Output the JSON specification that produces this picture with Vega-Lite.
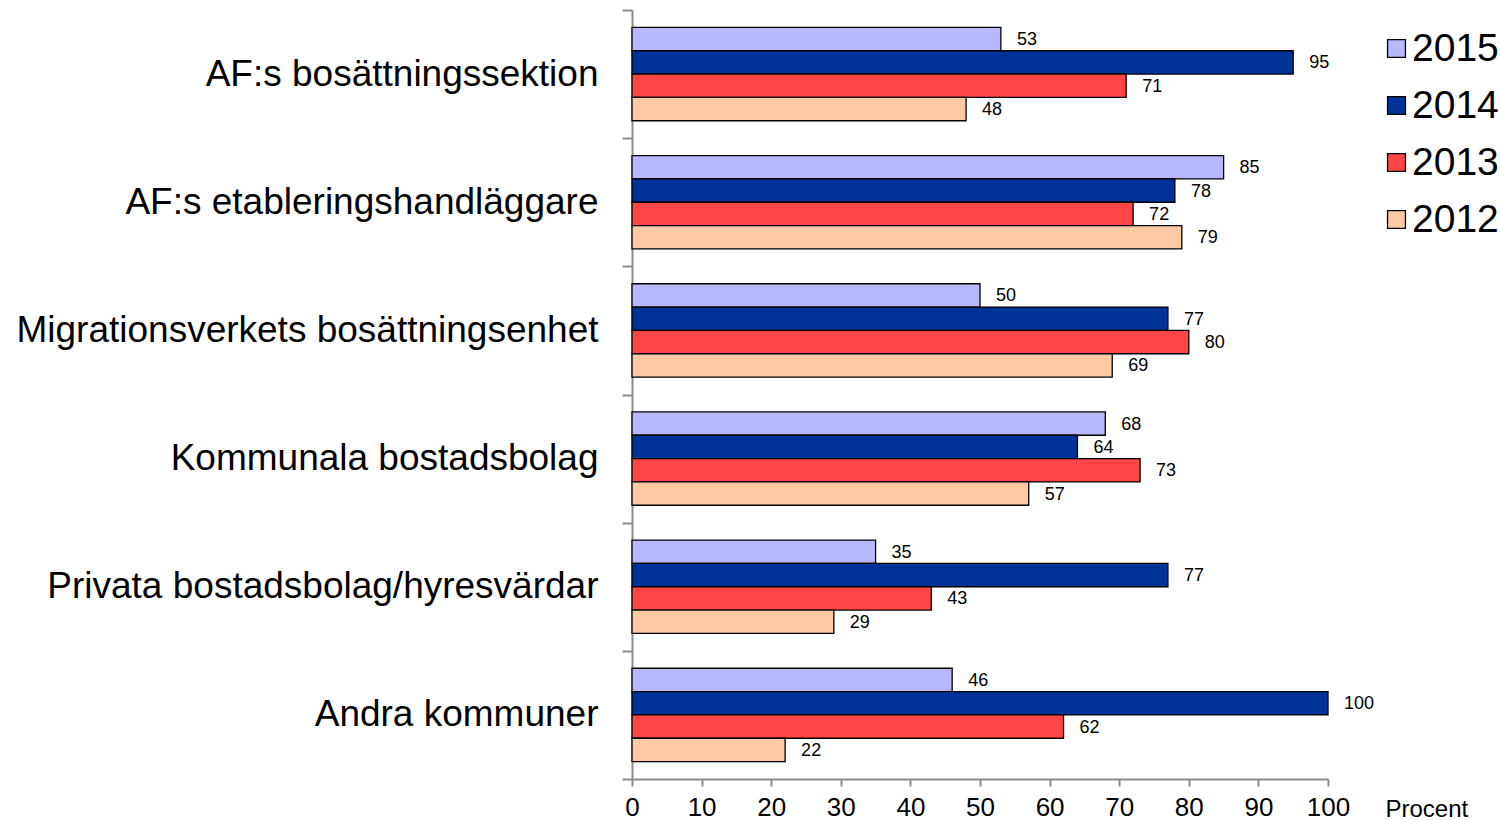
{
  "$schema": "https://vega.github.io/schema/vega-lite/v6.json",
  "width": 696,
  "height": 769,
  "autosize": {"type": "none"},
  "padding": {"left": 632, "top": 10, "right": 173, "bottom": 41},
  "background": "white",
  "config": {
    "view": {"stroke": null},
    "font": "Liberation Sans",
    "axis": {"labelFont": "Liberation Sans", "titleFont": "Liberation Sans"},
    "legend": {"labelFont": "Liberation Sans"}
  },
  "data": {
    "values": [
      {"kategori": "AF:s bosättningssektion", "year": "2015", "value": 53},
      {"kategori": "AF:s bosättningssektion", "year": "2014", "value": 95},
      {"kategori": "AF:s bosättningssektion", "year": "2013", "value": 71},
      {"kategori": "AF:s bosättningssektion", "year": "2012", "value": 48},
      {"kategori": "AF:s etableringshandläggare", "year": "2015", "value": 85},
      {"kategori": "AF:s etableringshandläggare", "year": "2014", "value": 78},
      {"kategori": "AF:s etableringshandläggare", "year": "2013", "value": 72},
      {"kategori": "AF:s etableringshandläggare", "year": "2012", "value": 79},
      {"kategori": "Migrationsverkets bosättningsenhet", "year": "2015", "value": 50},
      {"kategori": "Migrationsverkets bosättningsenhet", "year": "2014", "value": 77},
      {"kategori": "Migrationsverkets bosättningsenhet", "year": "2013", "value": 80},
      {"kategori": "Migrationsverkets bosättningsenhet", "year": "2012", "value": 69},
      {"kategori": "Kommunala bostadsbolag", "year": "2015", "value": 68},
      {"kategori": "Kommunala bostadsbolag", "year": "2014", "value": 64},
      {"kategori": "Kommunala bostadsbolag", "year": "2013", "value": 73},
      {"kategori": "Kommunala bostadsbolag", "year": "2012", "value": 57},
      {"kategori": "Privata bostadsbolag/hyresvärdar", "year": "2015", "value": 35},
      {"kategori": "Privata bostadsbolag/hyresvärdar", "year": "2014", "value": 77},
      {"kategori": "Privata bostadsbolag/hyresvärdar", "year": "2013", "value": 43},
      {"kategori": "Privata bostadsbolag/hyresvärdar", "year": "2012", "value": 29},
      {"kategori": "Andra kommuner", "year": "2015", "value": 46},
      {"kategori": "Andra kommuner", "year": "2014", "value": 100},
      {"kategori": "Andra kommuner", "year": "2013", "value": 62},
      {"kategori": "Andra kommuner", "year": "2012", "value": 22}
    ]
  },
  "encoding": {
    "y": {
      "field": "kategori",
      "type": "nominal",
      "sort": null,
      "scale": {"paddingInner": 0, "paddingOuter": 0},
      "axis": {
        "title": null,
        "tickBand": "extent",
        "tickSize": 10,
        "labelPadding": 24,
        "labelFontSize": 37,
        "labelColor": "black",
        "labelLimit": 700,
        "domainColor": "#8c8c8c",
        "tickColor": "#8c8c8c",
        "domainWidth": 2,
        "tickWidth": 2,
        "grid": false
      }
    },
    "yOffset": {
      "field": "year",
      "type": "nominal",
      "sort": ["2015", "2014", "2013", "2012"],
      "scale": {"paddingInner": 0, "paddingOuter": 0.745}
    },
    "x": {
      "field": "value",
      "type": "quantitative",
      "scale": {"domain": [0, 100], "nice": false},
      "axis": {
        "values": [0, 10, 20, 30, 40, 50, 60, 70, 80, 90, 100],
        "grid": false,
        "tickSize": 7,
        "labelPadding": 8,
        "labelFlush": false,
        "labelFontSize": 26,
        "labelColor": "black",
        "domainColor": "#8c8c8c",
        "tickColor": "#8c8c8c",
        "domainWidth": 2,
        "tickWidth": 2,
        "title": "Procent",
        "titleFontSize": 24,
        "titleFontWeight": "normal",
        "titleColor": "black",
        "titleAnchor": "start",
        "titleAlign": "left",
        "titleBaseline": "alphabetic",
        "titleX": 753,
        "titleY": 37
      }
    }
  },
  "layer": [
    {
      "mark": {"type": "bar", "stroke": "black", "strokeWidth": 1.3},
      "encoding": {
        "color": {
          "field": "year",
          "type": "nominal",
          "sort": ["2015", "2014", "2013", "2012"],
          "scale": {
            "domain": ["2015", "2014", "2013", "2012"],
            "range": ["#B8B8FF", "#003399", "#FF4545", "#FFC9A3"]
          },
          "legend": {
            "title": null,
            "orient": "none",
            "legendX": 745,
            "legendY": 19,
            "symbolType": "square",
            "symbolSize": 320,
            "symbolStrokeColor": "black",
            "symbolStrokeWidth": 1.3,
            "labelFontSize": 39,
            "labelColor": "black",
            "labelOffset": -4,
            "rowPadding": 17,
            "symbolOpacity": 1
          }
        }
      }
    },
    {
      "mark": {"type": "text", "align": "left", "dx": 16, "fontSize": 18, "color": "black", "baseline": "middle", "dy": 1},
      "encoding": {
        "text": {"field": "value", "type": "quantitative"}
      }
    }
  ]
}
